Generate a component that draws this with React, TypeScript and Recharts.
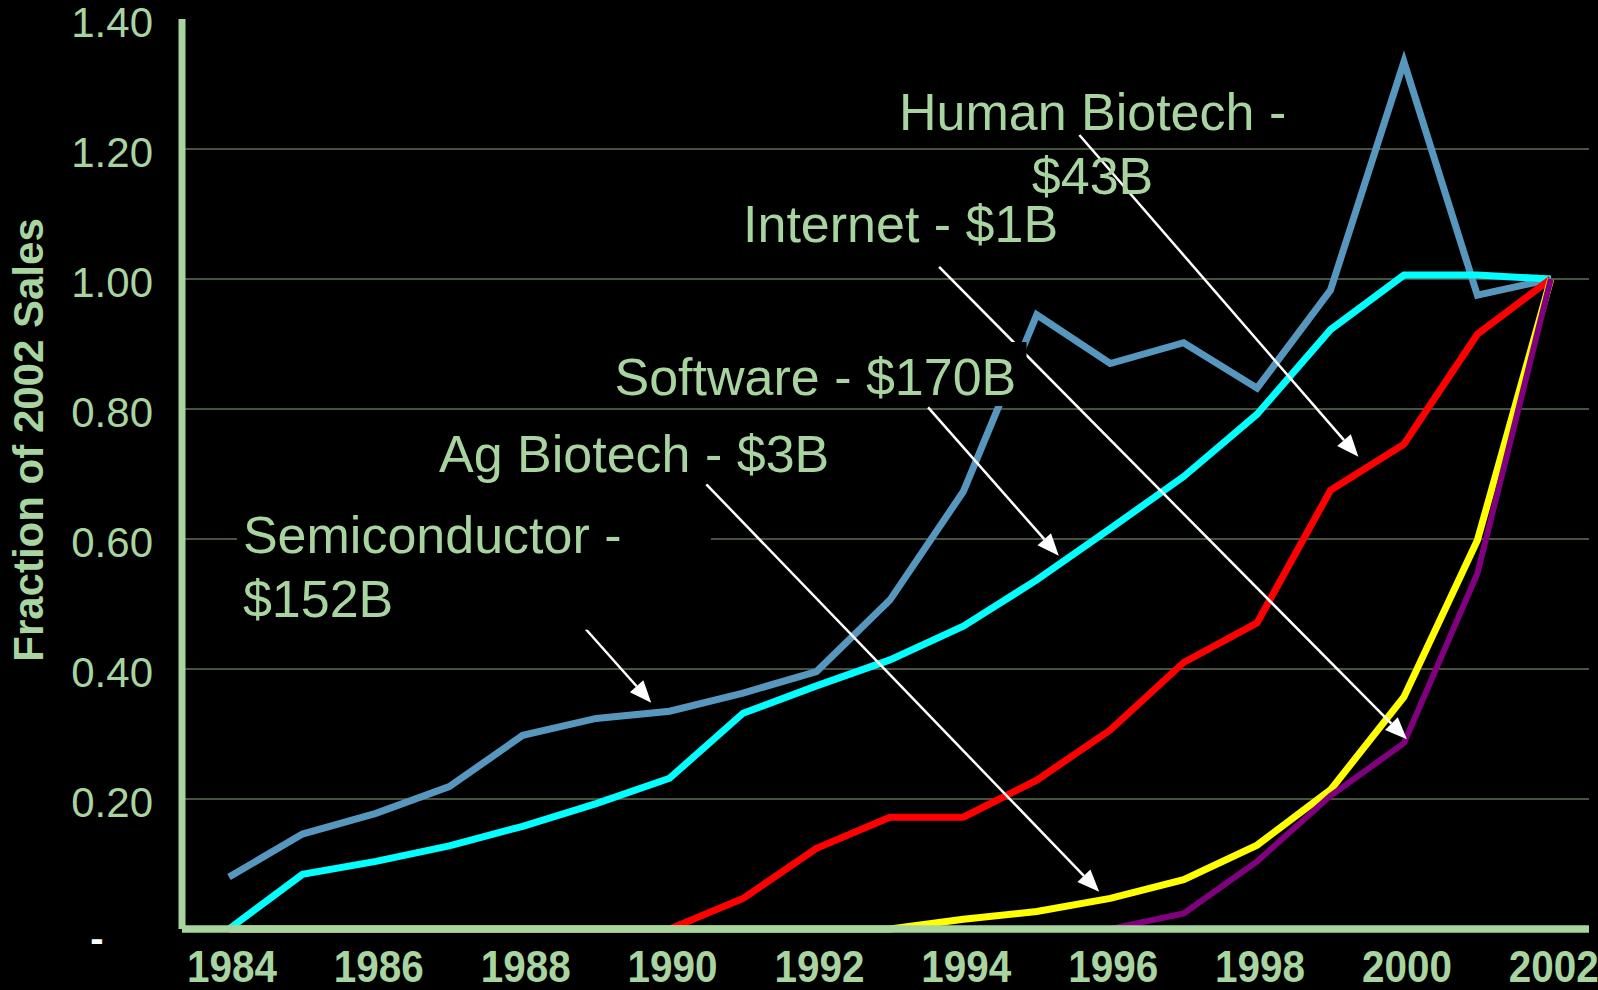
import React from 'react';
import { CartesianGrid, Line, LineChart, ReferenceDot, ReferenceLine, XAxis, YAxis } from 'recharts';

const years = [1984, 1985, 1986, 1987, 1988, 1989, 1990, 1991, 1992, 1993, 1994, 1995, 1996, 1997, 1998, 1999, 2000, 2001, 2002];
const semiconductor = [0.08, 0.146, 0.178, 0.219, 0.298, 0.324, 0.335, 0.363, 0.396, 0.506, 0.673, 0.945, 0.87, 0.902, 0.832, 0.983, 1.334, 0.975, 1.0];
const software = [0.0, 0.084, 0.104, 0.128, 0.158, 0.193, 0.232, 0.332, 0.374, 0.414, 0.466, 0.537, 0.616, 0.696, 0.792, 0.922, 1.006, 1.006, 1.0];
const humanBiotech = [0, 0, 0, 0, 0, 0, 0, 0.047, 0.124, 0.172, 0.172, 0.229, 0.306, 0.41, 0.471, 0.675, 0.746, 0.915, 1.0];
const agBiotech = [0, 0, 0, 0, 0, 0, 0, 0, 0, 0, 0.015, 0.027, 0.047, 0.076, 0.129, 0.214, 0.357, 0.598, 1.0];
const internet = [0, 0, 0, 0, 0, 0, 0, 0, 0, 0, 0, 0, 0, 0.024, 0.104, 0.205, 0.286, 0.547, 1.0];

const xTicks = [1984, 1986, 1988, 1990, 1992, 1994, 1996, 1998, 2000, 2002];
const yTicks = [0, 0.2, 0.4, 0.6, 0.8, 1.0, 1.2, 1.4];
const gridValues = [0.2, 0.4, 0.6, 0.8, 1.0, 1.2];

// annotation text, anchored in data units (year, fraction)
const labels = [
  { id: 'semi', lines: ['Semiconductor -', '$152B'], at: [1984.19, 0.579], anchor: 'start', box: [-6, -53, 474, 130] },
  { id: 'ag', lines: ['Ag Biotech - $3B'], at: [1986.86, 0.7035], anchor: 'start' },
  { id: 'sw', lines: ['Software - $170B'], at: [1989.25, 0.8215], anchor: 'start', box: [-5, -53, 417, 64] },
  { id: 'net', lines: ['Internet - $1B'], at: [1991.0, 1.0569], anchor: 'start' },
  { id: 'hb', lines: ['Human Biotech -', '$43B'], at: [1995.76, 1.2292], anchor: 'middle' },
];

const arrows = [
  { id: 'a-semi', from: [1988.86, 0.4611], to: [1989.75, 0.3482] },
  { id: 'a-ag', from: [1990.5, 0.6842], to: [1995.85, 0.0574] },
  { id: 'a-sw', from: [1993.52, 0.8026], to: [1995.3, 0.5743] },
  { id: 'a-net', from: [1993.67, 1.0185], to: [2000.04, 0.2918] },
  { id: 'a-hb', from: [1995.58, 1.2215], to: [1999.38, 0.7266] },
];

const data = years.map((year, i) => ({
  year,
  semiconductor: semiconductor[i],
  software: software[i],
  humanBiotech: humanBiotech[i],
  agBiotech: agBiotech[i],
  internet: internet[i],
}));

const GREEN = '#A8D4A0';
const FONT = "'Liberation Sans', Arial, sans-serif";

const XTick = (props: any) => {
  const { x, y, payload } = props;
  return (
    <g transform={`translate(${x + 3} ${y}) scale(0.92 1)`}>
      <text x={0} y={0} dy={53} textAnchor="middle" fill={GREEN} fontSize={44} fontWeight="bold" fontFamily={FONT}>
        {payload.value}
      </text>
    </g>
  );
};

const YTick = (props: any) => {
  const { x, y, payload } = props;
  if (payload.value === 0) {
    return (
      <text x={x - 56} y={y} dy={23} textAnchor="middle" fill="#fff" fontSize={40} fontWeight="bold" fontFamily={FONT}>
        -
      </text>
    );
  }
  return (
    <text x={x} y={y} dy={18} textAnchor="end" fill={GREEN} fontSize={42} fontFamily={FONT}>
      {payload.value.toFixed(2)}
    </text>
  );
};

const YTitle = (props: any) => {
  const { viewBox } = props;
  const cx = viewBox.x + 28;
  const cy = viewBox.y + viewBox.height / 2 - 34;
  return (
    <text x={cx} y={cy} transform={`rotate(-90 ${cx} ${cy})`} textAnchor="middle" dominantBaseline="central"
      fill={GREEN} fontSize={42} fontWeight="bold" fontFamily={FONT}>
      Fraction of 2002 Sales
    </text>
  );
};

const makeLabel = (lines: string[], anchor: string, box?: number[]) => (props: any) => {
  const { cx, cy } = props;
  return (
    <g>
      {box && <rect x={cx + box[0]} y={cy + box[1]} width={box[2]} height={box[3]} fill="#000" />}
      <text x={cx} y={cy} textAnchor={anchor} fill={GREEN} fontSize={52} fontFamily={FONT}>
        {lines.map((t, i) => (
          <tspan key={i} x={cx} dy={i === 0 ? 0 : 64}>{t}</tspan>
        ))}
      </text>
    </g>
  );
};

const ArrowShape = (props: any) => {
  const { x1, y1, x2, y2 } = props;
  const a = Math.atan2(y2 - y1, x2 - x1);
  const len = 22;
  const half = 9;
  const bx = x2 - len * Math.cos(a);
  const by = y2 - len * Math.sin(a);
  const px = -Math.sin(a) * half;
  const py = Math.cos(a) * half;
  return (
    <g>
      <line x1={x1} y1={y1} x2={bx} y2={by} stroke="#fff" strokeWidth={2.5} />
      <polygon points={`${x2},${y2} ${bx + px},${by + py} ${bx - px},${by - py}`} fill="#fff" />
    </g>
  );
};

export default function App() {
  return (
    <div style={{ position: 'fixed', top: 0, left: 0, width: 1598, height: 990, background: '#000' }}>
      <LineChart width={1598} height={990} data={data} margin={{ top: 19, right: 9, bottom: 0, left: 0 }}>
        <CartesianGrid vertical={false} horizontalValues={gridValues} stroke="#8CA87E" strokeWidth={1} />
        <XAxis
          dataKey="year"
          type="number"
          domain={[1983.36, 2002.52]}
          allowDataOverflow
          ticks={xTicks}
          interval={0}
          height={61}
          tickSize={0}
          tickMargin={0}
          tickLine={false}
          axisLine={{ stroke: GREEN, strokeWidth: 7 }}
          tick={<XTick />}
        />
        <YAxis
          domain={[0, 1.4]}
          ticks={yTicks}
          interval={0}
          width={182}
          tickSize={0}
          tickMargin={29}
          tickLine={false}
          axisLine={{ stroke: GREEN, strokeWidth: 7 }}
          tick={<YTick />}
          label={{ content: <YTitle /> }}
        />
        <Line dataKey="semiconductor" stroke="#5797BE" strokeWidth={7} dot={false} strokeLinejoin="miter" isAnimationActive={false} />
        <Line dataKey="software" stroke="#00FFFF" strokeWidth={7} dot={false} strokeLinejoin="miter" isAnimationActive={false} />
        <Line dataKey="humanBiotech" stroke="#FF0000" strokeWidth={7} dot={false} strokeLinejoin="miter" isAnimationActive={false} />
        <Line dataKey="agBiotech" stroke="#FFFF00" strokeWidth={7} dot={false} strokeLinejoin="miter" isAnimationActive={false} />
        <Line dataKey="internet" stroke="#800080" strokeWidth={6} dot={false} strokeLinejoin="miter" isAnimationActive={false} />
        <ReferenceLine y={0} stroke={GREEN} strokeWidth={7} />
        {labels.map((l) => (
          <ReferenceDot key={l.id} x={l.at[0]} y={l.at[1]} r={1} shape={makeLabel(l.lines, l.anchor, l.box)} />
        ))}
        {arrows.map((a) => (
          <ReferenceLine
            key={a.id}
            segment={[{ x: a.from[0], y: a.from[1] }, { x: a.to[0], y: a.to[1] }]}
            shape={ArrowShape}
          />
        ))}
      </LineChart>
    </div>
  );
}
